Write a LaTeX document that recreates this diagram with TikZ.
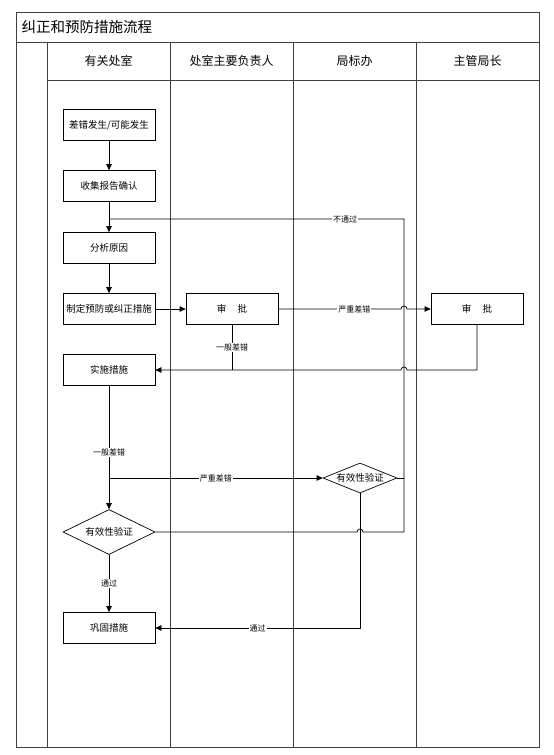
\documentclass[tikz,border=0pt]{standalone}
\usepackage{fontspec}
\setmainfont{Noto Sans CJK SC}
\usetikzlibrary{shapes.geometric,arrows.meta}
\begin{document}
\begin{tikzpicture}[x=1pt,y=1pt,line width=0.7pt,
  box/.style={draw,minimum width=92pt,minimum height=31pt,inner sep=1pt,font=\fontsize{9.5}{11}\selectfont},
  check/.style={diamond,draw,aspect=2.5,inner sep=0pt,font=\fontsize{9.5}{11}\selectfont},
  lbl/.style={fill=white,inner sep=1pt,font=\fontsize{8}{9}\selectfont},
  arr/.style={-{Triangle[length=6pt,width=5.5pt]}},
  frame/.style={line width=0.9pt,black!75}]
  \useasboundingbox (0,0) rectangle (554,-755);

  \draw[frame] (16.5,-12) rectangle (539,-747);
  \draw[frame] (16.5,-42) -- (539,-42);
  \draw[frame] (47.5,-80) -- (539,-80);
  \foreach \x in {47.5,170,293,416}
    \draw[frame] (\x,-42) -- (\x,-747);

  \node[anchor=west,font=\fontsize{14.5}{16}\selectfont] (title) at (18,-27) {纠正和预防措施流程};
  \foreach \x/\lane in {108.5/有关处室, 231.5/处室主要负责人, 354.5/局标办, 477.5/主管局长}
    \node[font=\fontsize{12}{14}\selectfont] (head\x) at (\x,-61) {\lane};

  \node[box] (occur) at (109,-125) {差错发生/可能发生};
  \node[box] (collect) at (109,-186) {收集报告确认};
  \node[box] (cause) at (109,-248) {分析原因};
  \node[box] (plan) at (109,-309) {制定预防或纠正措施};
  \node[box] (deptok) at (232,-309) {审\hspace{1.2em}批};
  \node[box] (chiefok) at (477,-309) {审\hspace{1.2em}批};
  \node[box] (act) at (109,-370) {实施措施};
  \node[check,minimum width=92pt,minimum height=45pt] (verify) at (109,-532) {有效性验证};
  \node[check,minimum width=74pt,minimum height=30pt] (officev) at (360,-478) {有效性验证};
  \node[box] (fix) at (109,-628) {巩固措施};
  \coordinate (back) at (404,-219);

  \draw[arr] (occur) -- (collect);
  \draw[arr] (collect) -- (cause);
  \draw[arr] (cause) -- (plan);
  \draw[arr] (plan) -- (deptok);
  \draw[arr] (deptok) -- node[lbl,pos=0.62] (sev1) {严重差错} ([xshift=-3pt]back |- deptok) arc (180:0:3) -- (chiefok);
  \draw (deptok) -- node[lbl] (minor1) {一般差错} (deptok |- act);
  \draw[arr] (chiefok.south) |- ([xshift=3pt]back |- act) arc (0:180:3) -- (act);
  \draw[arr] (act) -- node[lbl,pos=0.54] (minor2) {一般差错} (verify);
  \draw[arr] (act |- officev) -- node[lbl] (sev2) {严重差错} (officev);
  \draw[arr] (verify) -- node[lbl] (pass1) {通过} (fix);
  \draw[arr] (officev.south) |- node[lbl,pos=0.75] (pass2) {通过} (fix);
  \draw (officev.east) -- (officev.east -| back);
  \draw (verify.east) -- ([xshift=-3pt]officev |- verify) arc (180:0:3) -- (verify -| back) -- (back)
    -- node[lbl,pos=0.2] (fail) {不通过} (collect |- back);
\end{tikzpicture}
\end{document}
